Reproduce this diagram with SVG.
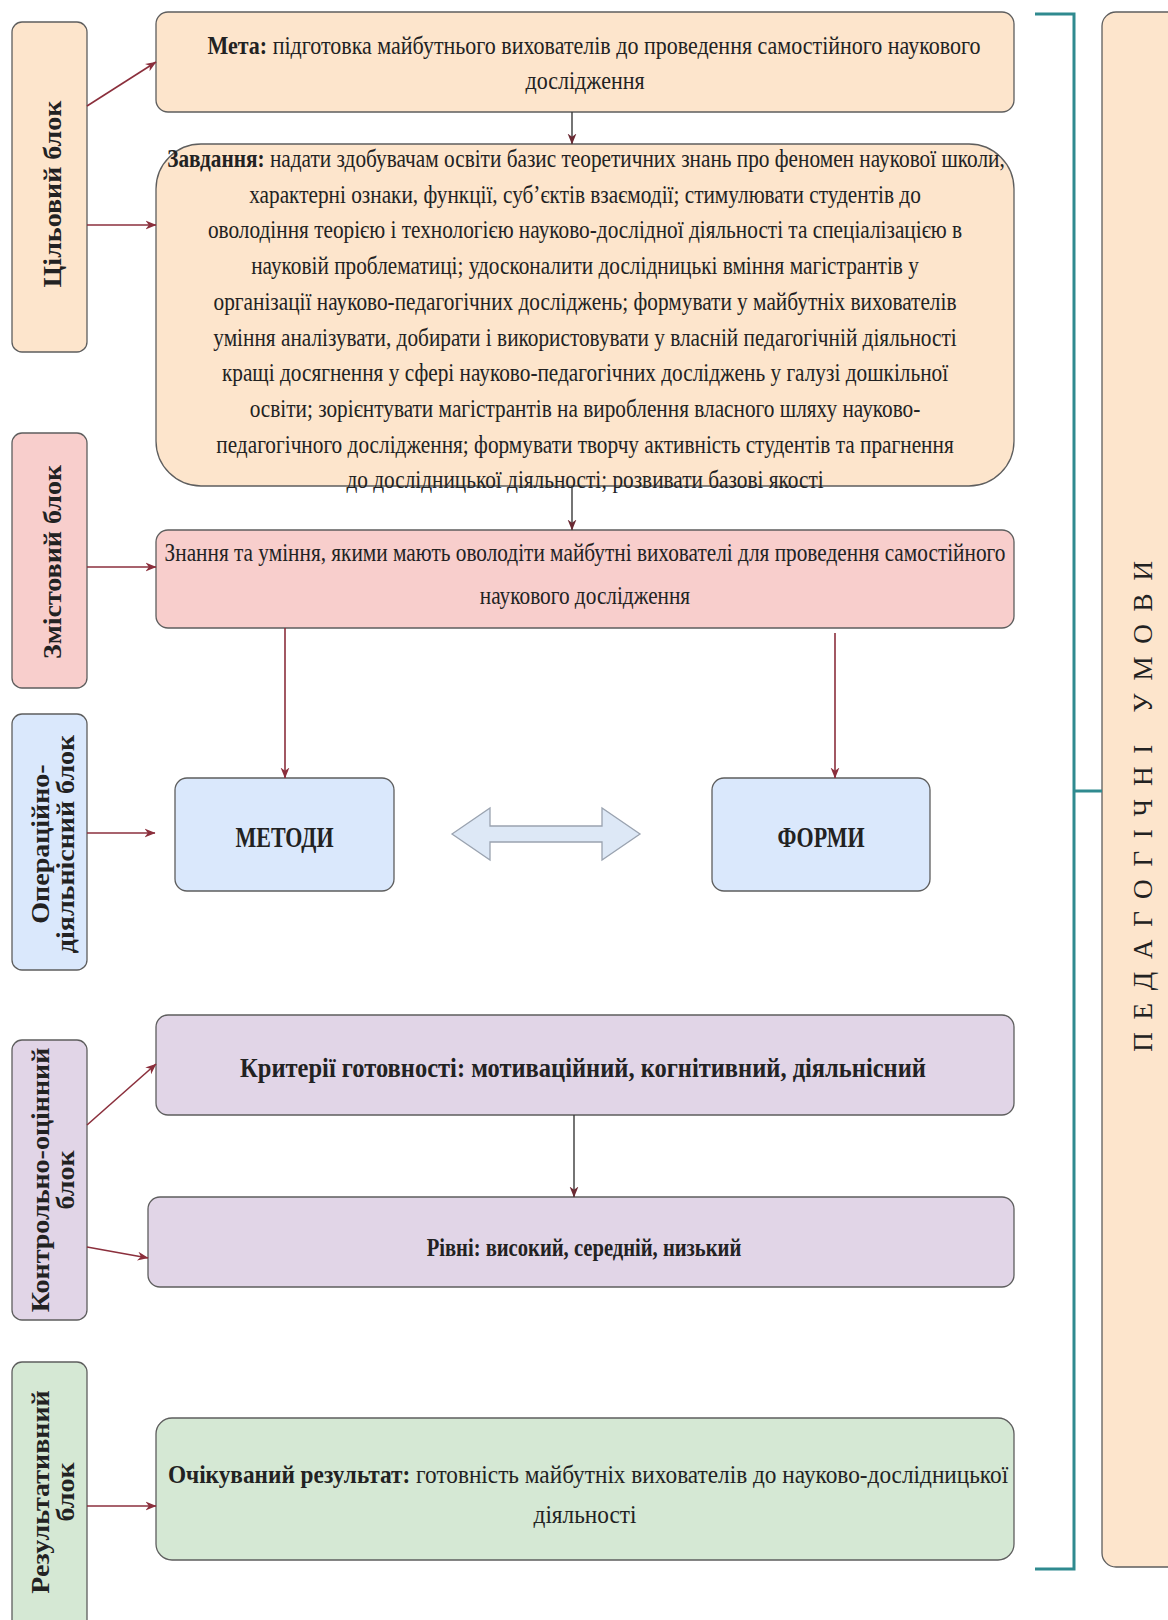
<svg xmlns="http://www.w3.org/2000/svg" width="1168" height="1620" viewBox="0 0 1168 1620">
<defs>
<style>
.t{font-family:"Liberation Serif","Times New Roman",serif;font-size:21.3px;fill:#222;text-anchor:middle}
.b{font-weight:bold}
.lbl{font-family:"Liberation Serif","Times New Roman",serif;font-size:25px;font-weight:bold;fill:#222;text-anchor:middle}
.box{stroke:#5e5e5e;stroke-width:1.3}
.peach{fill:#fde5cc}
.pink{fill:#f8cecc}
.blue{fill:#dae8fc}
.purple{fill:#e1d5e7}
.green{fill:#d5e8d4}
.ar{fill:none;stroke:#8b2f3c;stroke-width:1.6}
.ad{fill:none;stroke:#3a3a3a;stroke-width:1.4}
</style>
<marker id="ah" viewBox="0 0 10 10" refX="9.5" refY="5" markerWidth="11" markerHeight="11" markerUnits="userSpaceOnUse" orient="auto">
<path d="M0,1 L10,5 L0,9 L3,5 z" fill="#8b2f3c"/>
</marker>
<marker id="ahd" viewBox="0 0 10 10" refX="9.5" refY="5" markerWidth="11" markerHeight="11" markerUnits="userSpaceOnUse" orient="auto">
<path d="M0,1 L10,5 L0,9 L3,5 z" fill="#6b2a33"/>
</marker>
</defs>
<rect width="1168" height="1620" fill="#ffffff"/>

<!-- left labels -->
<g id="lbl-tsil">
<rect class="box peach" x="12" y="22" width="75" height="330" rx="10"/>
<text class="lbl" transform="translate(50,194) rotate(-90) scale(1.12,1)" x="0" y="11">Цільовий блок</text>
</g>
<g id="lbl-zmist">
<rect class="box pink" x="12" y="433" width="75" height="255" rx="10"/>
<text class="lbl" transform="translate(50,562) rotate(-90) scale(1.12,1)" x="0" y="11">Змістовий блок</text>
</g>
<g id="lbl-oper">
<rect class="box blue" x="12" y="714" width="75" height="256" rx="10"/>
<text class="lbl" transform="translate(50,844) rotate(-90) scale(1.12,1)"><tspan x="0" y="-1">Операційно-</tspan><tspan x="0" y="24">діяльнісний блок</tspan></text>
</g>
<g id="lbl-kontr">
<rect class="box purple" x="12" y="1040" width="75" height="280" rx="10"/>
<text class="lbl" transform="translate(50,1180) rotate(-90) scale(1.12,1)"><tspan x="0" y="-1">Контрольно-оцінний</tspan><tspan x="0" y="24">блок</tspan></text>
</g>
<g id="lbl-rez">
<rect class="box green" x="12" y="1362" width="75" height="290" rx="10"/>
<text class="lbl" transform="translate(50,1492) rotate(-90) scale(1.12,1)"><tspan x="0" y="-1">Результативний</tspan><tspan x="0" y="24">блок</tspan></text>
</g>

<!-- main boxes -->
<g id="meta">
<rect class="box peach" x="156" y="12" width="858" height="100" rx="12"/>
<text class="t" style="font-size:22px" transform="translate(594,54) scale(1,1.17)"><tspan class="b">Мета:</tspan> підготовка майбутнього вихователів до проведення самостійного наукового</text>
<text class="t" style="font-size:22px" transform="translate(585,89) scale(1,1.17)">дослідження</text>
</g>
<g id="zavdannya">
<rect class="box peach" x="156" y="144" width="858" height="342" rx="45"/>
<text class="t" transform="translate(586,167) scale(1,1.2)"><tspan class="b">Завдання:</tspan> надати здобувачам освіти базис теоретичних знань про феномен наукової школи,</text>
<text class="t" transform="translate(585,202.7) scale(1,1.2)">характерні ознаки, функції, суб’єктів взаємодії; стимулювати студентів до</text>
<text class="t" transform="translate(585,238.4) scale(1,1.2)">оволодіння теорією і технологією науково-дослідної діяльності та спеціалізацією в</text>
<text class="t" transform="translate(585,274.1) scale(1,1.2)">науковій проблематиці; удосконалити дослідницькі вміння магістрантів у</text>
<text class="t" transform="translate(585,309.8) scale(1,1.2)">організації науково-педагогічних досліджень; формувати у майбутніх вихователів</text>
<text class="t" transform="translate(585,345.5) scale(1,1.2)">уміння аналізувати, добирати і використовувати у власній педагогічній діяльності</text>
<text class="t" transform="translate(585,381.2) scale(1,1.2)">кращі досягнення у сфері науково-педагогічних досліджень у галузі дошкільної</text>
<text class="t" transform="translate(585,416.9) scale(1,1.2)">освіти; зорієнтувати магістрантів на вироблення власного шляху науково-</text>
<text class="t" transform="translate(585,452.6) scale(1,1.2)">педагогічного дослідження; формувати творчу активність студентів та прагнення</text>
<text class="t" transform="translate(585,488.3) scale(1,1.2)">до дослідницької діяльності; розвивати базові якості</text>
</g>
<g id="znannya">
<rect class="box pink" x="156" y="530" width="858" height="98" rx="12"/>
<text class="t" transform="translate(585,561) scale(1,1.2)">Знання та уміння, якими мають оволодіти майбутні вихователі для проведення самостійного</text>
<text class="t" transform="translate(585,604) scale(1,1.2)">наукового дослідження</text>
</g>
<g id="metody">
<rect class="box blue" x="175" y="778" width="219" height="113" rx="12"/>
<text class="t b" style="font-size:22px" transform="translate(284.5,847) scale(1,1.3)">МЕТОДИ</text>
</g>
<g id="formy">
<rect class="box blue" x="712" y="778" width="218" height="113" rx="12"/>
<text class="t b" style="font-size:22px" transform="translate(821,847) scale(1,1.3)">ФОРМИ</text>
</g>
<g id="kryterii">
<rect class="box purple" x="156" y="1015" width="858" height="100" rx="12"/>
<text class="t b" style="font-size:24.5px" transform="translate(583,1077) scale(1,1.12)">Критерії готовності: мотиваційний, когнітивний, діяльнісний</text>
</g>
<g id="rivni">
<rect class="box purple" x="148" y="1197" width="866" height="90" rx="12"/>
<text class="t b" style="font-size:20.6px" transform="translate(584,1256) scale(1,1.25)">Рівні: високий, середній, низький</text>
</g>
<g id="rezultat">
<rect class="box green" x="156" y="1418" width="858" height="142" rx="16"/>
<text class="t" style="font-size:23.3px" transform="translate(588,1483) scale(1,1.12)"><tspan class="b">Очікуваний результат:</tspan> готовність майбутніх вихователів до науково-дослідницької</text>
<text class="t" style="font-size:23.3px" transform="translate(585,1523) scale(1,1.12)">діяльності</text>
</g>
<g id="umovy">
<rect class="box peach" x="1102" y="12" width="100" height="1555" rx="14"/>
<text transform="translate(1142,800) rotate(-90)" x="0" y="10" style="font-family:'Liberation Serif','Times New Roman',serif;font-size:27px;fill:#222;text-anchor:middle;letter-spacing:12.8px">ПЕДАГОГІЧНІ УМОВИ</text>
</g>

<!-- connectors -->
<g id="connectors">
<line class="ar" x1="87" y1="106" x2="156" y2="62" marker-end="url(#ah)"/>
<line class="ar" x1="87" y1="225" x2="156" y2="225" marker-end="url(#ah)"/>
<line class="ad" x1="572" y1="112" x2="572" y2="144" marker-end="url(#ahd)"/>
<line class="ad" x1="572" y1="486" x2="572" y2="530" marker-end="url(#ahd)"/>
<line class="ar" x1="87" y1="567" x2="156" y2="567" marker-end="url(#ah)"/>
<line class="ar" x1="285" y1="628" x2="285" y2="778" marker-end="url(#ah)"/>
<line class="ar" x1="835" y1="633" x2="835" y2="778" marker-end="url(#ah)"/>
<line class="ar" x1="87" y1="833" x2="155" y2="833" marker-end="url(#ah)"/>
<path d="M452,834 L490,808 L490,826 L602,826 L602,808 L640,834 L602,860 L602,842 L490,842 L490,860 Z" fill="#dde8f6" stroke="#9aa3b0" stroke-width="1.3"/>
<line class="ar" x1="87" y1="1125" x2="156" y2="1064" marker-end="url(#ah)"/>
<line class="ar" x1="87" y1="1247" x2="148" y2="1258" marker-end="url(#ah)"/>
<line class="ad" x1="574" y1="1115" x2="574" y2="1197" marker-end="url(#ahd)"/>
<line class="ar" x1="87" y1="1506" x2="156" y2="1506" marker-end="url(#ah)"/>
<polyline points="1035,14 1074,14 1074,1569 1035,1569" fill="none" stroke="#2f8a8f" stroke-width="3"/>
<line x1="1074" y1="791" x2="1102" y2="791" stroke="#2f8a8f" stroke-width="3"/>
</g>
</svg>
